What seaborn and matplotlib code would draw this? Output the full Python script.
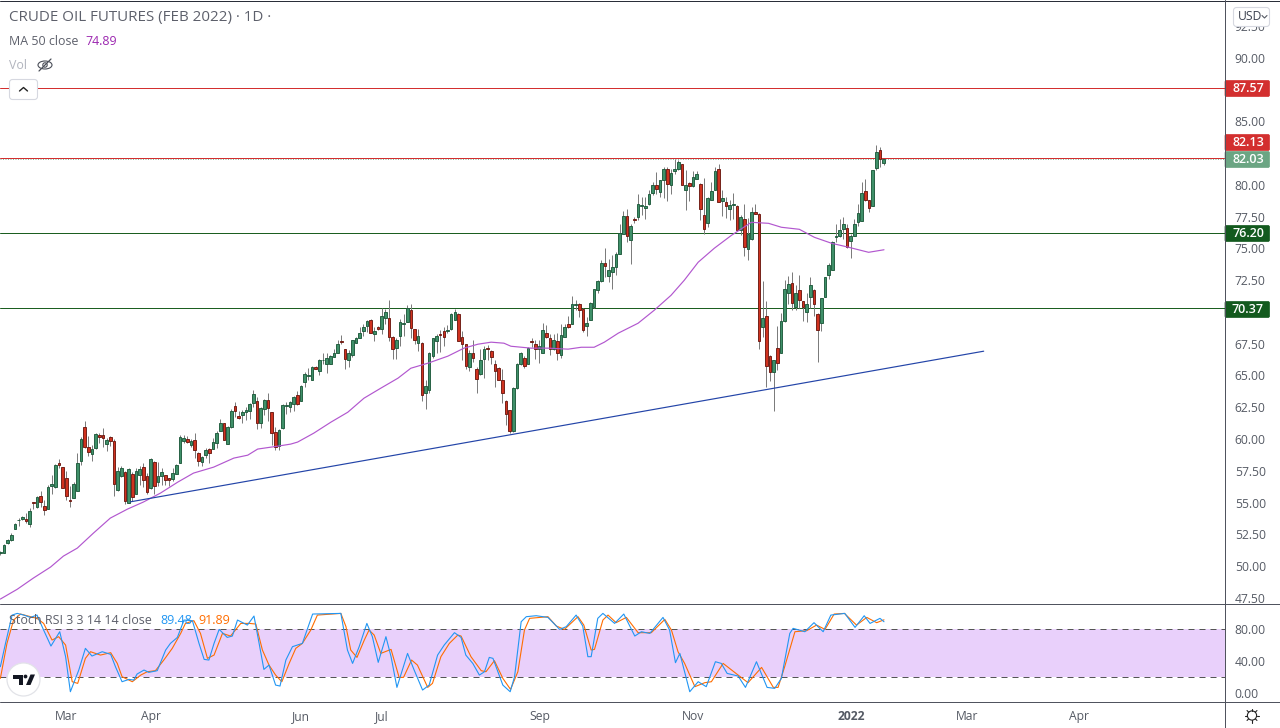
import numpy as np
import pandas as pd
import matplotlib
matplotlib.use("Agg")
import matplotlib.pyplot as plt
import seaborn as sns
from matplotlib.patches import FancyBboxPatch, Circle, Polygon, Ellipse
from matplotlib.lines import Line2D

# ---------- candles ----------
opens = [
 51.0,51.06,51.79,52.06,52.92,53.62,53.71,53.71,53.34,55.04,
 54.68,55.51,54.73,54.52,56.30,56.22,58.11,57.79,56.93,55.2,
 55.38,55.93,58.29,60.94,59.34,58.84,59.31,60.31,60.31,59.63,
 60.15,59.84,56.01,57.09,57.4,54.99,57.24,55.7,57.16,57.79,
 57.09,56.14,58.19,56.61,57.09,57.16,56.93,56.85,57.27,58.13,
 59.84,60.0,59.52,59.92,58.89,58.19,58.74,59.21,59.21,59.68,
 60.62,61.25,59.6,60.94,62.59,61.8,61.88,62.12,62.2,62.82,
 62.98,61.25,62.35,63.06,62.12,60.55,59.44,60.86,62.6,62.51,
 62.75,63.45,
 63.0,64.5,64.95,64.66,65.7,65.36,66.18,65.94,65.94,66.49,
 66.8,67.69,67.12,66.18,66.62,67.59,67.98,68.46,68.93,69.4,
 68.27,68.85,68.69,69.56,69.56,68.06,67.17,68.14,69.06,69.24,
 70.18,68.69,67.59,67.59,63.63,63.82,66.57,67.75,68.3,68.53,
 68.46,68.69,69.4,69.87,68.06,67.51,65.7,66.73,65.47,65.08,
 66.33,67.2,66.96,65.94,65.55,64.68,63.03,62.32,60.6,64.05,
 65.94,66.41,65.94,67.75,67.51,67.12,66.8,68.38,67.91,67.12,
 67.75,66.65,68.06,69.08,69.08,70.58,70.66,
 70.22,68.91,69.35,70.4,71.76,72.44,73.81,72.84,73.15,73.54,
 74.54,76.16,77.58,75.69,77.34,77.47,78.34,78.18,78.5,79.36,
 80.02,79.44,80.41,81.27,79.99,81.09,81.25,81.61,79.57,80.17,
 79.91,80.49,80.09,77.66,77.0,78.81,79.57,81.27,78.73,78.68,
 78.13,78.42,78.36,76.45,77.34,74.96,75.74,77.89,77.74,68.83,
 69.64,66.57,65.29,67.13,66.78,69.25,71.5,72.31,70.4,71.76,
 70.82,70.01,71.19,71.76,69.82,69.14,71.19,72.94,73.33,75.91,
 75.98,76.56,76.64,75.59,75.98,77.05,77.16,79.52,78.84,78.36,
 81.33,82.77,81.7]
highs = [
 51.2,51.72,52.12,52.63,53.4,53.76,53.97,54.15,54.55,55.04,
 55.5,55.91,55.2,56.37,57.16,58.0,58.42,57.79,57.48,56.3,
 56.6,58.87,60.15,61.4,60.2,59.5,60.47,60.5,60.86,60.1,
 60.2,60.0,57.8,57.85,57.5,57.7,57.4,57.7,57.9,58.1,
 57.3,58.5,58.3,58.2,57.75,57.2,56.95,57.7,58.05,60.3,
 60.3,60.2,60.0,60.45,59.0,58.7,59.3,59.3,60.1,60.6,
 61.6,61.3,61.0,62.35,62.9,62.2,62.3,62.5,62.85,63.85,
 63.3,62.5,63.15,63.6,62.15,60.95,60.8,62.75,62.9,63.0,
 63.4,63.75,
 64.24,65.3,65.55,65.73,65.73,66.33,66.73,66.78,66.62,67.12,
 67.83,68.17,67.12,66.99,67.83,68.04,68.82,69.08,69.4,69.45,
 68.82,68.93,70.34,70.26,70.92,68.09,67.91,69.42,69.87,70.58,
 70.66,68.69,68.69,67.62,64.63,66.86,67.91,68.3,68.61,68.82,
 68.95,69.92,70.26,69.95,68.51,67.51,66.99,67.83,65.63,67.12,
 67.3,67.38,66.99,66.2,65.63,65.47,63.06,62.32,64.11,65.99,
 66.86,66.57,67.25,67.91,67.77,67.77,69.14,68.95,68.3,68.3,
 68.35,69.08,69.08,69.66,71.23,70.92,70.71,
 70.27,69.61,70.79,71.84,72.5,74.07,74.99,74.2,74.46,74.72,
 76.95,77.95,78.13,76.95,77.47,79.31,79.05,79.05,79.57,80.23,
 81.01,80.41,81.4,81.4,81.27,82.06,81.98,81.67,81.14,80.23,
 81.09,81.09,80.15,80.57,79.05,80.23,81.4,81.67,79.57,79.05,
 78.84,79.39,78.39,77.6,78.47,77.4,78.26,78.52,77.79,72.44,
 70.87,66.6,66.21,68.88,69.93,72.5,72.81,73.15,72.1,72.89,
 70.87,71.45,72.76,71.79,69.88,71.06,72.76,73.81,75.56,76.9,
 77.34,77.47,76.95,76.16,77.29,78.52,80.23,80.49,78.84,81.19,
 83.11,82.98,82.06]
lows = [
 50.9,51.04,51.72,52.0,52.9,53.16,53.65,53.42,53.08,54.5,
 54.6,54.68,54.02,54.5,55.67,56.15,57.74,56.15,55.2,54.68,
 55.38,55.93,57.95,59.3,58.7,58.3,59.25,59.7,59.4,59.05,
 59.45,55.55,55.95,57.0,54.9,54.95,55.1,55.7,56.35,56.2,
 55.7,56.1,55.65,56.3,56.4,56.35,56.3,56.7,57.25,58.1,
 59.7,59.7,59.4,58.5,57.85,57.85,58.5,58.1,59.2,59.3,
 60.6,59.9,59.6,60.85,61.7,61.6,61.3,61.5,61.6,62.55,
 60.75,60.9,61.9,61.4,59.5,59.1,59.15,60.8,62.0,62.1,
 62.2,62.7,
 63.0,64.1,64.68,64.66,65.47,65.05,65.94,65.21,65.94,66.46,
 66.8,67.46,65.52,65.63,66.46,67.56,67.98,68.14,68.43,68.35,
 67.7,68.61,68.3,69.08,67.72,66.33,66.33,67.35,68.09,69.19,
 67.91,67.51,66.94,63.0,62.38,63.63,66.41,66.73,66.86,67.33,
 68.35,68.61,69.35,67.72,66.25,65.47,65.36,66.07,63.66,65.02,
 64.84,66.25,65.94,64.11,64.63,62.85,61.07,60.49,60.54,63.97,
 65.81,65.55,65.89,67.25,66.33,65.99,66.78,67.91,66.6,67.04,
 66.25,66.41,68.04,68.77,69.08,70.13,69.61,
 68.44,68.09,69.33,70.32,71.45,72.37,72.76,72.37,71.79,72.89,
 74.54,76.16,75.51,73.75,77.0,77.21,77.6,77.29,78.44,79.18,
 79.31,79.05,79.0,78.71,79.31,80.88,81.19,79.96,78.0,78.71,
 79.83,80.43,77.21,76.16,76.69,78.78,79.57,78.63,77.53,77.42,
 77.21,77.34,76.43,76.03,74.38,74.07,75.69,77.68,67.07,68.04,
 64.11,64.58,62.23,65.42,66.73,69.22,70.66,70.14,70.19,70.27,
 69.3,69.22,70.27,69.69,66.08,68.51,71.19,72.57,73.28,75.51,
 75.9,75.77,74.99,74.28,75.95,76.74,77.16,78.73,77.89,78.36,
 81.14,81.4,81.54]
closes = [
 51.1,51.66,52.06,52.45,53.31,53.66,53.89,53.55,54.34,54.98,
 55.41,55.07,54.41,56.22,56.46,57.95,57.95,56.17,55.54,55.14,
 56.46,58.11,59.99,59.39,58.97,59.21,60.39,60.15,60.1,59.92,
 59.86,56.48,57.48,57.72,55.15,57.64,55.44,57.45,57.64,56.77,
 55.83,58.42,56.33,57.09,57.4,56.77,56.77,57.32,57.95,60.15,
 60.07,59.76,59.84,59.13,58.27,58.58,59.13,58.89,59.76,60.47,
 61.25,59.92,60.94,62.2,62.2,61.65,62.12,62.27,62.75,63.53,
 61.25,62.43,63.06,62.43,60.47,59.37,60.7,62.67,62.66,62.9,
 63.3,62.75,
 64.16,65.08,65.0,65.63,65.52,66.25,66.22,66.41,66.57,66.8,
 67.51,67.63,66.31,66.73,67.83,67.98,68.38,68.85,69.32,68.38,
 68.53,68.66,69.71,69.97,68.06,67.12,67.83,69.24,69.1,70.34,
 68.77,67.83,68.14,63.5,64.21,66.73,67.91,68.14,68.22,68.06,
 68.61,69.87,70.03,67.75,67.51,65.78,66.8,66.41,64.76,66.25,
 67.12,67.12,66.49,65.39,64.68,63.66,61.93,60.67,64.05,65.94,
 66.73,65.78,67.2,67.67,67.12,67.28,68.61,68.06,67.12,67.83,
 66.8,68.22,68.85,68.85,70.66,70.66,70.18,
 68.57,69.09,70.74,71.79,72.42,73.88,73.62,73.33,73.57,74.54,
 76.24,77.53,75.98,76.79,77.21,78.52,78.44,78.36,79.26,79.96,
 79.67,80.41,81.27,80.09,80.96,81.22,81.82,80.02,79.96,79.91,
 80.64,80.88,78.13,76.56,78.99,79.54,81.06,78.65,78.99,78.36,
 78.44,78.52,76.45,77.5,75.12,76.16,77.89,77.74,67.75,69.56,
 65.76,65.29,66.18,66.0,69.25,71.79,72.16,70.71,71.45,70.95,
 70.4,70.61,72.08,70.66,68.54,71.06,72.71,73.73,75.51,75.95,
 76.48,76.95,75.12,76.01,76.95,77.81,79.39,78.78,78.18,81.19,
 82.61,82.06,82.03]

# ---------- moving average (bar number, price) ----------
ma_bar = [0,4.6,9,13.7,17.2,21,25.4,30,34.7,39,43.7,48.4,52.7,58.2,63.7,67.5,70.2,75.7,79.2,
          81.1,85.5,90.2,94.8,99.2,103.8,108.5,112,116.7,122.1,126.5,130.3,133.9,137.4,139.3,144.8,149.5,154.9,158.5,
          162,164.8,168.6,174,178.4,183,186.6,190.4,194.8,199.5,204.9,209.6,213.1,218,222.1,226.8,231.4,236.9,241.1]
ma_val = [47.41,48.18,49.06,49.93,50.79,51.42,52.6,53.78,54.49,55.04,55.75,56.61,57.32,57.79,58.5,58.73,59.21,59.44,59.6,
          59.76,60.46,61.33,62.11,63.21,64.0,64.79,65.57,65.97,66.52,67.15,67.46,67.62,67.54,67.3,67.15,67.15,67.07,67.22,
          67.22,67.62,68.33,69.11,70.13,71.31,72.49,73.91,75.01,76.03,77.05,76.97,76.66,76.5,75.87,75.4,75.09,74.69,74.89]

# ---------- stochastic RSI ----------
k_bar = [0,1.4,3.2,4.6,6.4,8.2,10,11.8,13.8,16.2,17.8,19.1,21.4,23.2,25,27.8,30.1,31.4,33.2,35.1,36.4,37.3,39.2,40.5,42.8,
         45.1,46.4,48.3,50.1,52.4,54.2,55.6,56.9,58.3,59.7,61.9,63.3,64.7,67.4,69.2,70.6,71.9,73.3,75.1,76.3,77.9,79.7,82.4,85.2,92.9,
         94.7,96.1,97.9,100,101.5,103.1,105.2,106.6,108.2,111.1,112.9,115.2,117,119.3,121.1,123.9,125.7,
         127,128.9,130.7,132.1,133.4,134.4,137.1,139.1,140.3,142.1,143.5,146.2,149.4,152.6,154.4,157.1,158.9,160.3,161.2,163,164.4,
         167.6,170.1,173.1,174.9,177.2,180.8,182.6,184.2,185.4,188.1,190.4,192.6,195.1,196.7,198.3,201.3,203.3,206.3,209.2,211.3,213.1,
         215.4,216.3,219.5,222,224.5,226.6,230.4,233.2,235.7,237.3,240,241.1]
k_val = [33.3,62.4,97.8,99.9,97.8,94.9,97.8,79.1,59.1,77,45.8,2,29.1,56.2,46.6,52,48.7,33.3,14.5,17.4,16.6,24.1,29.1,26.2,28.3,
         54.1,62.4,69.9,91.6,90.8,62.4,42.4,41.6,62.4,79.9,69.9,71.6,91.6,85.3,96.6,62.4,29.9,35.3,10.3,9.1,41.6,58.3,62.4,99.1,99.9,
         54.1,37.4,58.3,87.4,70.8,38.7,70.8,45.8,7.4,49.9,29.1,4.1,10.3,47.8,60.3,75.8,69.9,
         47.8,37.4,22.8,27,44.9,43.7,10.3,2,20.8,89.5,95.8,97,94.9,79.9,83.3,97.8,84.1,45.8,45.8,93.7,99.9,
         87.4,99.1,71.6,77,74.9,94.9,79.1,38.3,49.9,2,14.5,8.3,39.5,37.4,24.9,21.6,7.4,39.5,7.4,6.2,18.7,
         74.9,81.2,77,88.3,77,97.8,99.9,82.4,97,87.4,93.7,89.48]
d_bar = [0,1.8,3.6,5.5,8.2,10,11.8,14.1,15.9,17.8,19.6,21.1,23.2,24.6,27.3,30.1,31.9,33.2,36,38.3,40.1,42.3,44.6,46.9,49.2,
         50.5,52.8,54.6,56.5,58.3,60.6,62.8,65.6,67.9,69.7,71.5,73.3,75.1,76.8,78.8,80.6,82.4,84.7,86.5,92.9,94.3,95.6,97.3,99.3,100.6,
         102,103.8,106.6,108.8,110,112.2,113.8,116.6,117.9,120.2,122.5,124.8,125.7,
         128.4,131.2,132.5,134.8,137.1,139.2,141.2,143,144.4,149.4,151.7,153.9,157.6,159.2,161.2,162.1,164.4,165.8,168,170.8,174,177.6,
         181.3,183.1,184.9,186.7,189.5,192.2,194,197.2,201.3,204,207.7,210.9,212.2,214,216.8,220,222.7,225,227.5,230.3,233.6,236.4,239.1,241.1]
d_val = [18.7,62.4,91.6,99.1,95.8,93.7,87.4,66.6,70.8,60.3,14.5,12.4,43.7,52,47.8,50.8,37.4,20.8,14.5,22.8,27,28.3,41.6,56.2,74.9,
         87.4,90.8,74.9,43.7,47.8,74.9,71.6,87.4,87.4,86.6,54.1,35.3,22.8,14.5,37.4,56.2,62.4,79.1,97.8,99.9,83.3,54.1,44.9,66.6,79.1,
         72.8,49.9,54.9,19.9,19.9,41.6,35.3,7.4,12.4,45.8,62.4,72.8,71.6,
         45.8,28.3,27,40.8,18.7,4.9,27,79.1,93.7,95.8,84.1,79.9,95.8,85.3,54.1,54.9,91.6,97.8,88.3,94.9,75.8,75.8,
         92.4,79.1,52,37.4,8.3,13.3,14.5,37.4,22.8,13.3,32.4,7.4,7.4,33.3,77,78.3,85.3,79.9,99.1,99.9,85.3,94.9,88.3,91.89]

# ---------- levels, trend line, axes ----------
level_pos = [87.6, 82.1, 76.18, 70.28]
level_col = ["#d32f2f", "#d32f2f", "#1b5e20", "#1b5e20"]
level_txt = ["87.57", "82.13", "76.20", "70.37"]
last_close_pos = 82.0
trend_bar = [35.5, 268.3]
trend_val = [55.06, 66.91]
price_ticks = [92.5, 90, 85, 80, 77.5, 75, 72.5, 67.5, 65, 62.5, 60, 57.5, 55, 52.5, 50, 47.5]
stoch_ticks = [80, 40, 0]
time_pos = [18, 41, 82, 104.1, 147.3, 189.1, 232.2, 263.7, 294.3]
time_txt = ["Mar", "Apr", "Jun", "Jul", "Sep", "Nov", "2022", "Mar", "Apr"]

FONT = ["Open Sans", "DejaVu Sans"]
sns.set_theme(style="white")
plt.rcParams["font.family"] = FONT

W, H = 1280, 728
PITCH = 3.665
PX = 0.72  # one pixel, in points
fig = plt.figure(figsize=(W / 100, H / 100), dpi=100, facecolor="white")

def pane(top, bottom):
    return fig.add_axes([0, 1 - bottom / H, 1225 / W, (bottom - top) / H])

ax = pane(0.5, 603)
ax2 = pane(603, 701)
for a in (ax, ax2):
    a.set_facecolor("white")
    a.set_xlim(-0.1, 1225 / PITCH - 0.1)
ax.set_ylim(47.1, 94.5)
ax2.set_ylim(-9.6, 112.9)

candles = pd.DataFrame({"open": opens, "high": highs, "low": lows, "close": closes})
candles["bar"] = np.arange(len(candles))
up = candles["close"] >= candles["open"]

UP_F, UP_E, DN_F, DN_E, WICK = "#3f9069", "#1f5a3c", "#d0321f", "#6d1a12", "#7c7c7c"

ax.axhline(last_close_pos, color="#8fb8a2", lw=PX, ls=(0, (1, 1.5)), zorder=1)
for lvl, col in zip(level_pos, level_col):
    ax.axhline(lvl, color=col, lw=PX, zorder=1.5)

ax.vlines(candles["bar"], candles["low"], candles["high"], color=WICK, lw=PX, zorder=2)
for mask, fc, ec in ((up, UP_F, UP_E), (~up, DN_F, DN_E)):
    sub = candles[mask]
    ax.bar(sub["bar"], (sub["close"] - sub["open"]).abs(), bottom=sub[["open", "close"]].min(axis=1),
           width=0.72, color=fc, edgecolor=ec, linewidth=0.65, zorder=3)

sns.lineplot(x=ma_bar, y=ma_val, ax=ax, color="#b257cf", lw=0.85, zorder=4, legend=False, errorbar=None, sort=False)
sns.lineplot(x=trend_bar, y=trend_val, ax=ax, color="#2344a8", lw=0.85, zorder=4, legend=False, errorbar=None, sort=False)

ax2.axhspan(20, 80, color="#e9d0fb", lw=0, zorder=0)
for lvl in (20, 80):
    ax2.axhline(lvl, color="#555555", lw=PX, ls=(0, (6, 5)), zorder=1)
sns.lineplot(x=d_bar, y=d_val, ax=ax2, color="#ff6d00", lw=0.8, zorder=3, legend=False, errorbar=None, sort=False)
sns.lineplot(x=k_bar, y=k_val, ax=ax2, color="#2196f3", lw=0.8, zorder=4, legend=False, errorbar=None, sort=False)

TICK = "#555a64"
for a, ticks in ((ax, price_ticks), (ax2, stoch_ticks)):
    a.yaxis.tick_right()
    a.set_yticks(ticks)
    a.set_yticklabels([f"{t:.2f}" for t in ticks], fontsize=8.7, color=TICK)
    a.tick_params(axis="y", length=0, pad=7)
    for s in a.spines.values():
        s.set_visible(False)
    a.set_xlabel("")
    a.set_ylabel("")
ax.set_xticks([])
ax2.set_xticks(time_pos)
ax2.set_xticklabels(time_txt, fontsize=8.7, color=TICK)
ax2.get_xticklabels()[6].set_fontweight("bold")
ax2.tick_params(axis="x", length=0, pad=6.5)

# overlay in pixel coordinates
ov = fig.add_axes([0, 0, 1, 1], zorder=10)
ov.set_xlim(0, W)
ov.set_ylim(H, 0)
ov.axis("off")
ov.patch.set_alpha(0)

# pane separators
for xs, ys, col in (([0, W], [0.5, 0.5], "#2a2e39"), ([0, W], [603.5, 603.5], "#50535e"),
                    ([0, W], [701.5, 701.5], "#50535e"), ([1224.5, 1224.5], [0, H], "#50535e")):
    ov.add_line(Line2D(xs, ys, color=col, lw=PX))

def badge(y0, y1, txt, col):
    ov.add_patch(FancyBboxPatch((1225, y0 + 0.5), 44.5, y1 - y0 - 1, boxstyle="round,pad=0,rounding_size=1.5",
                                fc=col, ec=col, lw=0.5))
    ov.text(1248, (y0 + y1) / 2 - 0.3, txt, color="white", fontsize=9, fontweight="semibold",
            ha="center", va="center")

badge(80, 97, level_txt[0], "#d32f2f")
badge(134, 151, level_txt[1], "#d32f2f")
badge(151, 168, "82.03", "#6ba583")
badge(225, 242, level_txt[2], "#135a1e")
badge(301, 318, level_txt[3], "#135a1e")

# currency button
ov.add_patch(FancyBboxPatch((1233.5, 7.5), 36, 19, boxstyle="round,pad=0,rounding_size=3", fc="white", ec="#d6d8e0", lw=0.8))
ov.text(1238, 16.5, "USD", fontsize=8.7, color="#3c4250", ha="left", va="center")
ov.add_line(Line2D([1262, 1264.5, 1267], [15.5, 18, 15.5], color="#555a64", lw=0.8))

# legend texts
GREY = "#5d606b"
ov.text(9, 18, "CRUDE OIL FUTURES (FEB 2022) · 1D ·", fontsize=10.9, color=GREY, ha="left", va="center")
ov.text(9, 41.5, "MA 50 close", fontsize=8.9, color=GREY, ha="left", va="center")
ov.text(85, 41.5, "74.89", fontsize=8.9, color="#9c27b0", ha="left", va="center")
ov.text(9, 65.5, "Vol", fontsize=8.9, color="#b2b5be", ha="left", va="center")
ov.text(9, 620.5, "Stoch RSI 3 3 14 14 close", fontsize=9, color=GREY, ha="left", va="center")
ov.text(160, 620.5, "89.48", fontsize=9, color="#2196f3", ha="left", va="center")
ov.text(198, 620.5, "91.89", fontsize=9, color="#ff6d00", ha="left", va="center")

# hidden-eye icon
ov.add_patch(Ellipse((45, 65), 14, 8, fc="none", ec="#4a4e58", lw=0.8))
ov.add_patch(Circle((45, 65), 2.2, fc="none", ec="#4a4e58", lw=0.8))
ov.add_line(Line2D([39, 51], [71, 59], color="#4a4e58", lw=0.9))

# collapse button
ov.add_patch(FancyBboxPatch((9.5, 79.5), 28, 20, boxstyle="round,pad=0,rounding_size=3", fc="white", ec="#d6d8e0", lw=0.8))
ov.add_line(Line2D([19.5, 23.5, 27.5], [91, 87.5, 91], color="#222222", lw=1.0))

# logo
ov.add_patch(Circle((23.5, 679.5), 16.5, fc="white", ec="#e2e3e8", lw=0.9))
ov.add_patch(Polygon([(13, 674.5), (22.5, 674.5), (22.5, 685), (18.5, 685), (18.5, 678.5), (13, 678.5)], fc="#131722", ec="none"))
ov.add_patch(Circle((25.5, 676.5), 1.9, fc="#131722", ec="none"))
ov.add_patch(Polygon([(26, 685), (30.5, 674.5), (35, 674.5), (30.5, 685)], fc="#131722", ec="none"))

# settings icon
ov.add_patch(Circle((1252, 715.5), 4.6, fc="none", ec="#222222", lw=0.8))
for ang in np.arange(0, 360, 45):
    c, s = np.cos(np.radians(ang)), np.sin(np.radians(ang))
    ov.add_line(Line2D([1252 + 4.8 * c, 1252 + 7 * c], [715.5 + 4.8 * s, 715.5 + 7 * s], color="#222222", lw=0.8))

fig.savefig("out.png", dpi=100, facecolor="white")
